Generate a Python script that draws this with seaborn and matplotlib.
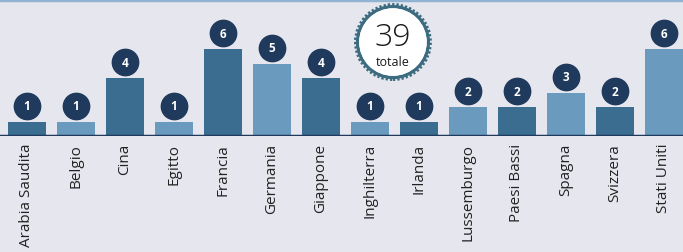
import numpy as np
import pandas as pd
import matplotlib.pyplot as plt
import seaborn as sns
from matplotlib.lines import Line2D

## Dati
paesi = ['Arabia Saudita', 'Belgio', 'Cina', 'Egitto', 'Francia', 'Germania', 'Giappone',
         'Inghilterra', 'Irlanda', 'Lussemburgo', 'Paesi Bassi', 'Spagna', 'Svizzera', 'Stati Uniti']
valori = [1, 1, 4, 1, 6, 5, 4, 1, 1, 2, 2, 3, 2, 6]
totale = 39
etichetta_totale = 'totale'

df = pd.DataFrame({'paese': paesi, 'valore': valori})

## Stile
sfondo = '#e6e6ee'
scuro = '#3a6d90'
chiaro = '#6a9bbf'
navy = '#1f3a5c'
teal = '#3d6c80'
colori = [scuro if i % 2 == 0 else chiaro for i in range(len(paesi))]

sns.set_style('white')
plt.rcParams['font.family'] = ['Open Sans', 'DejaVu Sans']

fig = plt.figure(figsize=(6.83, 2.53), dpi=100, facecolor=sfondo)
ax = fig.add_axes([0, 1 - 137 / 253, 1, 137 / 253])
ax.set_facecolor(sfondo)

sns.barplot(data=df, x='paese', y='valore', hue='paese', palette=colori,
            legend=False, width=0.78, saturation=1, linewidth=0, ax=ax)

ax.set_xlim(-0.55, 13.39)
ax.set_ylim(0, 9.45)

# cerchi con i valori
ax.scatter(range(len(valori)), np.array(valori) + 1.1, s=360, color=navy, zorder=3, clip_on=False)
for i, v in enumerate(valori):
    ax.text(i, v + 1.1, str(v), ha='center', va='center', color='white',
            fontsize=8.5, fontweight='bold', zorder=4)

# badge totale
bx, by = 7.47, 6.48
ax.scatter([bx], [by], s=2800, color='white', edgecolor=teal, linewidth=3.2,
           linestyle=(0, (0.5, 0.45)), zorder=3)
ax.scatter([bx], [by], s=2600, facecolor='none', edgecolor=teal, linewidth=2.4, zorder=3)
ax.scatter([bx], [by], s=2250, facecolor='none', edgecolor='white', linewidth=1.2, zorder=3)
ax.text(bx, 6.83, str(totale), ha='center', va='center', fontsize=23, fontweight='light',
        color='#1a1a1a', zorder=4)
ax.text(bx, 5.15, etichetta_totale, ha='center', va='center', fontsize=9, color='#1a1a1a', zorder=4)

# linea di base
ax.axhline(0, color=navy, linewidth=2.5, zorder=5)

ax.set_xlabel('')
ax.set_ylabel('')
ax.set_yticks([])
ax.tick_params(axis='x', length=0, pad=5, labelsize=11, labelcolor='#222222')
plt.setp(ax.get_xticklabels(), rotation=90, va='top')
sns.despine(ax=ax, left=True, bottom=True)

# linea in alto
fig.add_artist(Line2D([0, 1], [0.996, 0.996], color='#8fb3d0', linewidth=2.5))

plt.savefig('out.png', dpi=100, facecolor=sfondo)
